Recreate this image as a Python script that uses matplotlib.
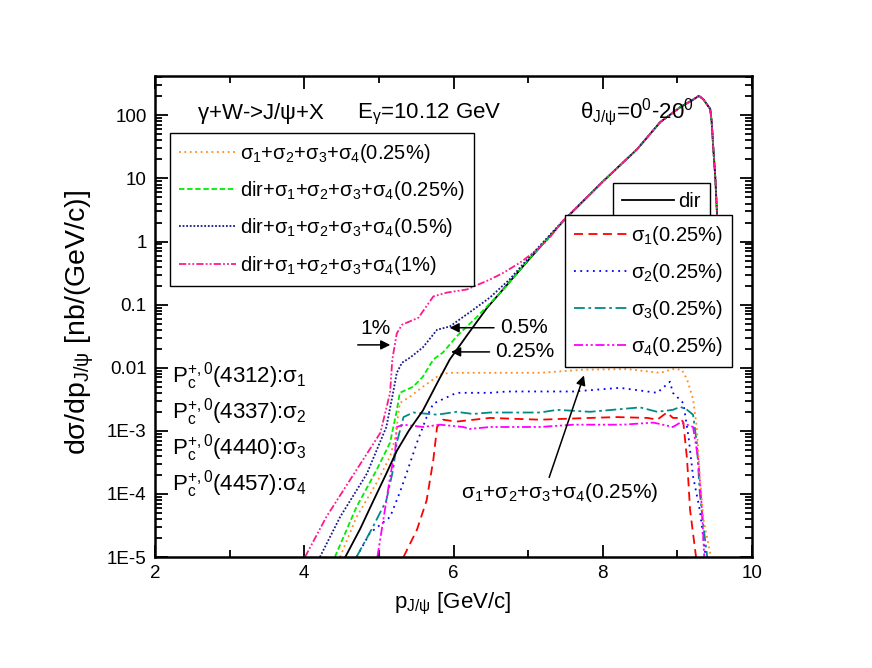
import matplotlib
matplotlib.use("Agg")
import matplotlib.pyplot as plt
from matplotlib.ticker import FixedLocator, LogLocator, NullFormatter

plt.rcParams['font.family'] = ['Liberation Sans', 'DejaVu Sans']
plt.rcParams['mathtext.fontset'] = 'custom'
plt.rcParams['mathtext.rm'] = 'Liberation Sans'
plt.rcParams['mathtext.it'] = 'Liberation Sans:italic'
plt.rcParams['mathtext.bf'] = 'Liberation Sans:bold'

# ---- data ----
dir_x = [4.55, 4.75, 4.92, 5.1, 5.24, 5.4, 5.59, 5.8, 5.95, 6.2, 6.45, 7.0, 7.47, 8.0,
         8.46, 8.77, 9.04, 9.2, 9.29, 9.35, 9.44, 9.46, 9.48, 9.51, 9.53, 9.56]
dir_y = [1e-5, 2.8e-5, 7.5e-5, 2.1e-4, 4.8e-4, 1.0e-3, 2.1e-3, 6.3e-3, 1.35e-2, 3.5e-2,
         8.9e-2, 0.5, 2.1, 8.9, 29, 78, 135, 174, 204, 178, 126, 78, 32, 9.5, 2.9, 0.5]

tot1_x = [4.01, 4.30, 4.70, 5.02, 5.15, 5.18, 5.24, 5.31, 5.53, 5.73, 5.91, 6.18, 6.49,
          6.67, 6.9, 7.12, 7.3, 7.47, 8.0, 8.46, 8.77, 9.04, 9.2, 9.29, 9.35, 9.44, 9.46,
          9.48, 9.51, 9.53, 9.56]
tot1_y = [1e-5, 4.4e-5, 2.4e-4, 9.3e-4, 4.0e-3, 1.35e-2, 3.5e-2, 4.8e-2, 6.2e-2, 0.135,
          0.155, 0.174, 0.25, 0.32, 0.47, 0.74, 1.2, 2.15, 8.9, 29, 78, 135, 174, 204, 178,
          126, 78, 32, 9.5, 2.9, 0.5]

tot05_x = [4.21, 4.48, 4.84, 5.10, 5.19, 5.24, 5.31, 5.42, 5.59, 5.78, 5.95, 6.22, 6.49,
           6.75, 7.0, 7.47, 8.0, 8.46, 8.77, 9.04, 9.2, 9.29, 9.35, 9.44, 9.46, 9.48, 9.51,
           9.53, 9.56]
tot05_y = [1e-5, 4.3e-5, 2.1e-4, 1.15e-3, 4.0e-3, 8.3e-3, 1.2e-2, 1.45e-2, 2.1e-2, 4.0e-2,
           4.5e-2, 7.6e-2, 0.13, 0.25, 0.54, 2.15, 8.9, 29, 78, 135, 174, 204, 178, 126, 78,
           32, 9.5, 2.9, 0.5]

tot025_x = [4.41, 4.70, 4.97, 5.15, 5.24, 5.28, 5.46, 5.59, 5.73, 5.86, 6.05, 6.32, 6.49,
            6.7, 7.0, 7.47, 8.0, 8.46, 8.77, 9.04, 9.2, 9.29, 9.35, 9.44, 9.46, 9.48, 9.51,
            9.53, 9.56]
tot025_y = [1e-5, 6.2e-5, 2.4e-4, 6.5e-4, 2.1e-3, 4.0e-3, 5.0e-3, 7.2e-3, 1.35e-2, 1.75e-2,
            3.2e-2, 6.5e-2, 0.105, 0.19, 0.51, 2.1, 8.9, 29, 78, 135, 174, 204, 178, 126, 78,
            32, 9.5, 2.9, 0.5]

sum_x = [4.48, 4.70, 4.97, 5.15, 5.22, 5.28, 5.42, 5.59, 5.82, 5.95, 6.49, 7.16, 7.74,
         8.33, 8.77, 8.94, 9.06, 9.13, 9.21, 9.26, 9.30, 9.35, 9.45]
sum_y = [1e-5, 4.3e-5, 1.5e-4, 3.9e-4, 7.9e-4, 2.75e-3, 3.5e-3, 5.0e-3, 7.8e-3, 8.3e-3,
         8.3e-3, 8.3e-3, 9.3e-3, 9.5e-3, 8.3e-3, 9.5e-3, 9.3e-3, 6.5e-3, 3.2e-3, 1.15e-3,
         1.9e-4, 3.9e-5, 1e-5]

s1_x = [5.33, 5.51, 5.64, 5.73, 5.78, 5.86, 6.04, 6.49, 7.16, 7.83, 8.19, 8.60, 8.73,
        8.86, 8.94, 9.04, 9.08, 9.13, 9.17, 9.25]
s1_y = [1e-5, 2.7e-5, 7.9e-5, 3.5e-4, 1.15e-3, 1.5e-3, 1.4e-3, 1.6e-3, 1.5e-3, 1.6e-3,
        1.65e-3, 1.6e-3, 1.5e-3, 1.95e-3, 1.6e-3, 1.6e-3, 1.35e-3, 3.5e-4, 5.6e-5, 1e-5]

s2_x = [4.70, 4.88, 5.15, 5.28, 5.37, 5.51, 5.64, 5.73, 6.04, 6.49, 6.72, 7.61, 8.23,
        8.73, 8.90, 8.94, 9.08, 9.15, 9.21, 9.30, 9.38]
s2_y = [1e-5, 2.4e-5, 4.3e-5, 1.05e-4, 2.1e-4, 6.5e-4, 1.65e-3, 2.7e-3, 4.0e-3, 4.0e-3,
        4.2e-3, 4.2e-3, 4.8e-3, 4.0e-3, 6.0e-3, 4.0e-3, 2.75e-3, 7.9e-4, 1.9e-4, 5.6e-5,
        1e-5]

s3_x = [4.70, 4.92, 5.10, 5.19, 5.24, 5.33, 5.46, 5.78, 6.04, 6.26, 6.49, 7.16, 7.39,
        7.83, 8.50, 8.73, 8.94, 9.04, 9.13, 9.21, 9.26, 9.30, 9.35, 9.40]
s3_y = [1e-5, 3.0e-5, 7.9e-5, 2.4e-4, 6.5e-4, 1.65e-3, 1.95e-3, 1.8e-3, 2.0e-3, 1.85e-3,
        1.95e-3, 1.95e-3, 2.15e-3, 2.0e-3, 2.35e-3, 2.0e-3, 2.15e-3, 2.4e-3, 2.15e-3,
        1.8e-3, 6.5e-4, 1.05e-4, 3.0e-5, 1e-5]

s4_x = [4.98, 5.06, 5.15, 5.22, 5.24, 5.33, 5.59, 5.82, 6.13, 6.22, 6.49, 7.16, 7.61,
        8.27, 8.68, 8.94, 9.04, 9.13, 9.21, 9.28, 9.33, 9.36]
s4_y = [1e-5, 3.9e-5, 1.85e-4, 5.0e-4, 1.15e-3, 1.25e-3, 1.15e-3, 1.25e-3, 1.15e-3,
        1.07e-3, 1.15e-3, 1.15e-3, 1.25e-3, 1.25e-3, 1.35e-3, 1.15e-3, 1.35e-3, 1.25e-3,
        1.15e-3, 3.5e-4, 5.6e-5, 1e-5]

SIG = '+'.join(r'$\mathregular{\sigma_%d}$' % i for i in range(1, 5))
sum_labels = [SIG + '(0.25%)', 'dir+' + SIG + '(0.25%)',
              'dir+' + SIG + '(0.5%)', 'dir+' + SIG + '(1%)']
sig_labels = [r'$\mathregular{\sigma_%d}$(0.25%%)' % i for i in range(1, 5)]
pc_labels = [r'$\mathregular{P_c^{+,0}}$(4312):$\mathregular{\sigma_1}$',
             r'$\mathregular{P_c^{+,0}}$(4337):$\mathregular{\sigma_2}$',
             r'$\mathregular{P_c^{+,0}}$(4440):$\mathregular{\sigma_3}$',
             r'$\mathregular{P_c^{+,0}}$(4457):$\mathregular{\sigma_4}$']

FS = 15
LFS = 14.5
fig = plt.figure(figsize=(8.72, 6.68), dpi=100)
ax = fig.add_axes([155 / 872, 1 - 557 / 668, 597 / 872, 481 / 668])

lw = 1.3
l_s1, = ax.plot(s1_x, s1_y, color='#ff0000', ls=(0, (5, 3)), lw=lw)
l_s2, = ax.plot(s2_x, s2_y, color='#0000ff', ls=(0, (1, 2.5)), lw=lw)
l_s3, = ax.plot(s3_x, s3_y, color='#008b8b', ls=(0, (6, 2, 1.5, 2)), lw=lw)
l_s4, = ax.plot(s4_x, s4_y, color='#ff00ff', ls=(0, (5, 1.5, 1.2, 1.5, 1.2, 1.5)), lw=lw)
l_sum, = ax.plot(sum_x, sum_y, color='#ff8c1a', ls=(0, (1, 2)), lw=lw)
l_dir, = ax.plot(dir_x, dir_y, color='black', ls='-', lw=lw)
l_t025, = ax.plot(tot025_x, tot025_y, color='#00ee00', ls=(0, (3, 1.5)), lw=lw)
l_t05, = ax.plot(tot05_x, tot05_y, color='#1a1a8c', ls=(0, (1, 1)), lw=lw)
l_t1, = ax.plot(tot1_x, tot1_y, color='#ff1a8c', ls=(0, (4, 1.2, 1, 1.2, 1, 1.2)), lw=lw)

ax.set_yscale('log')
ax.set_xlim(2, 10)
ax.set_ylim(1e-5, 420)

ax.xaxis.set_major_locator(FixedLocator([2, 4, 6, 8, 10]))
ax.xaxis.set_minor_locator(FixedLocator([3, 5, 7, 9]))
ax.yaxis.set_major_locator(FixedLocator([1e-5, 1e-4, 1e-3, 1e-2, 0.1, 1, 10, 100]))
ax.yaxis.set_minor_locator(LogLocator(base=10, subs=range(2, 10), numticks=20))
ax.yaxis.set_minor_formatter(NullFormatter())
ax.set_yticklabels(['1E-5', '1E-4', '1E-3', '0.01', '0.1', '1', '10', '100'])
ax.set_xticklabels(['2', '4', '6', '8', '10'])
ax.tick_params(which='both', direction='in', top=True, right=True, labelsize=13.5, width=1.3)
ax.tick_params(which='major', length=9, pad=6)
ax.tick_params(which='minor', length=5)
for sp in ax.spines.values():
    sp.set_linewidth(1.8)

fig.text(453 / 872, 1 - 604 / 668, r'$\mathregular{p_{J/\psi}}$ [GeV/c]', fontsize=16,
         ha='center', va='center')
fig.text(80 / 872, 1 - 322 / 668,
         r'd$\mathregular{\sigma}$/d$\mathregular{p_{J/\psi}}$ [nb/(GeV/c)]',
         fontsize=20.5, ha='center', va='center', rotation=90)

leg_kw = dict(fontsize=LFS, frameon=True, fancybox=False, framealpha=1, edgecolor='black',
              borderaxespad=0, handletextpad=0.2, borderpad=0.45, labelspacing=0.7)
leg1 = ax.legend([l_sum, l_t025, l_t05, l_t1], sum_labels, loc='upper left',
                 bbox_to_anchor=(0.025, 0.881), handlelength=2.85, **leg_kw)
leg1.get_frame().set_linewidth(1.0)
ax.add_artist(leg1)
leg2 = ax.legend([l_dir], ['dir'], loc='upper left', bbox_to_anchor=(0.767, 0.778),
                 handlelength=2.6, **leg_kw)
leg2.get_frame().set_linewidth(1.0)
ax.add_artist(leg2)
leg3 = ax.legend([l_s1, l_s2, l_s3, l_s4], sig_labels, loc='upper left',
                 bbox_to_anchor=(0.687, 0.711), handlelength=2.6, **leg_kw)
leg3.get_frame().set_linewidth(1.0)

ax.text(0.070, 0.911, r'$\mathregular{\gamma}$+W->J/$\mathregular{\psi}$+X',
        transform=ax.transAxes, fontsize=16, va='baseline')
ax.text(0.338, 0.911, r'$\mathregular{E_\gamma}$=10.12 GeV', transform=ax.transAxes,
        fontsize=16, va='baseline')
ax.text(0.712, 0.913, r'$\mathregular{\theta_{J/\psi}}$=$\mathregular{0^0}$-$\mathregular{20^0}$',
        transform=ax.transAxes, fontsize=16, va='baseline')
for i, lab in enumerate(pc_labels):
    ax.text(0.028, 0.362 - i * 0.0745, lab, transform=ax.transAxes, fontsize=16,
            va='baseline')

arr = dict(arrowstyle='-|>', color='black', lw=1.1, mutation_scale=14)
ax.annotate('', xy=(5.19, 0.023), xytext=(4.68, 0.023), arrowprops=arr)
ax.text(4.95, 0.03, '1%', fontsize=FS, ha='center', va='bottom')
ax.annotate('', xy=(5.91, 0.043), xytext=(6.58, 0.043), arrowprops=arr)
ax.text(6.62, 0.043, '0.5%', fontsize=FS, ha='left', va='center')
ax.annotate('', xy=(5.93, 0.0178), xytext=(6.52, 0.0178), arrowprops=arr)
ax.text(6.56, 0.0178, '0.25%', fontsize=FS, ha='left', va='center')
ax.annotate('', xy=(7.76, 8.3e-3), xytext=(7.27, 1.66e-4), arrowprops=arr)
ax.text(6.10, 1.07e-4, SIG + '(0.25%)', fontsize=FS, ha='left', va='center')

fig.savefig('out.png', dpi=100)
